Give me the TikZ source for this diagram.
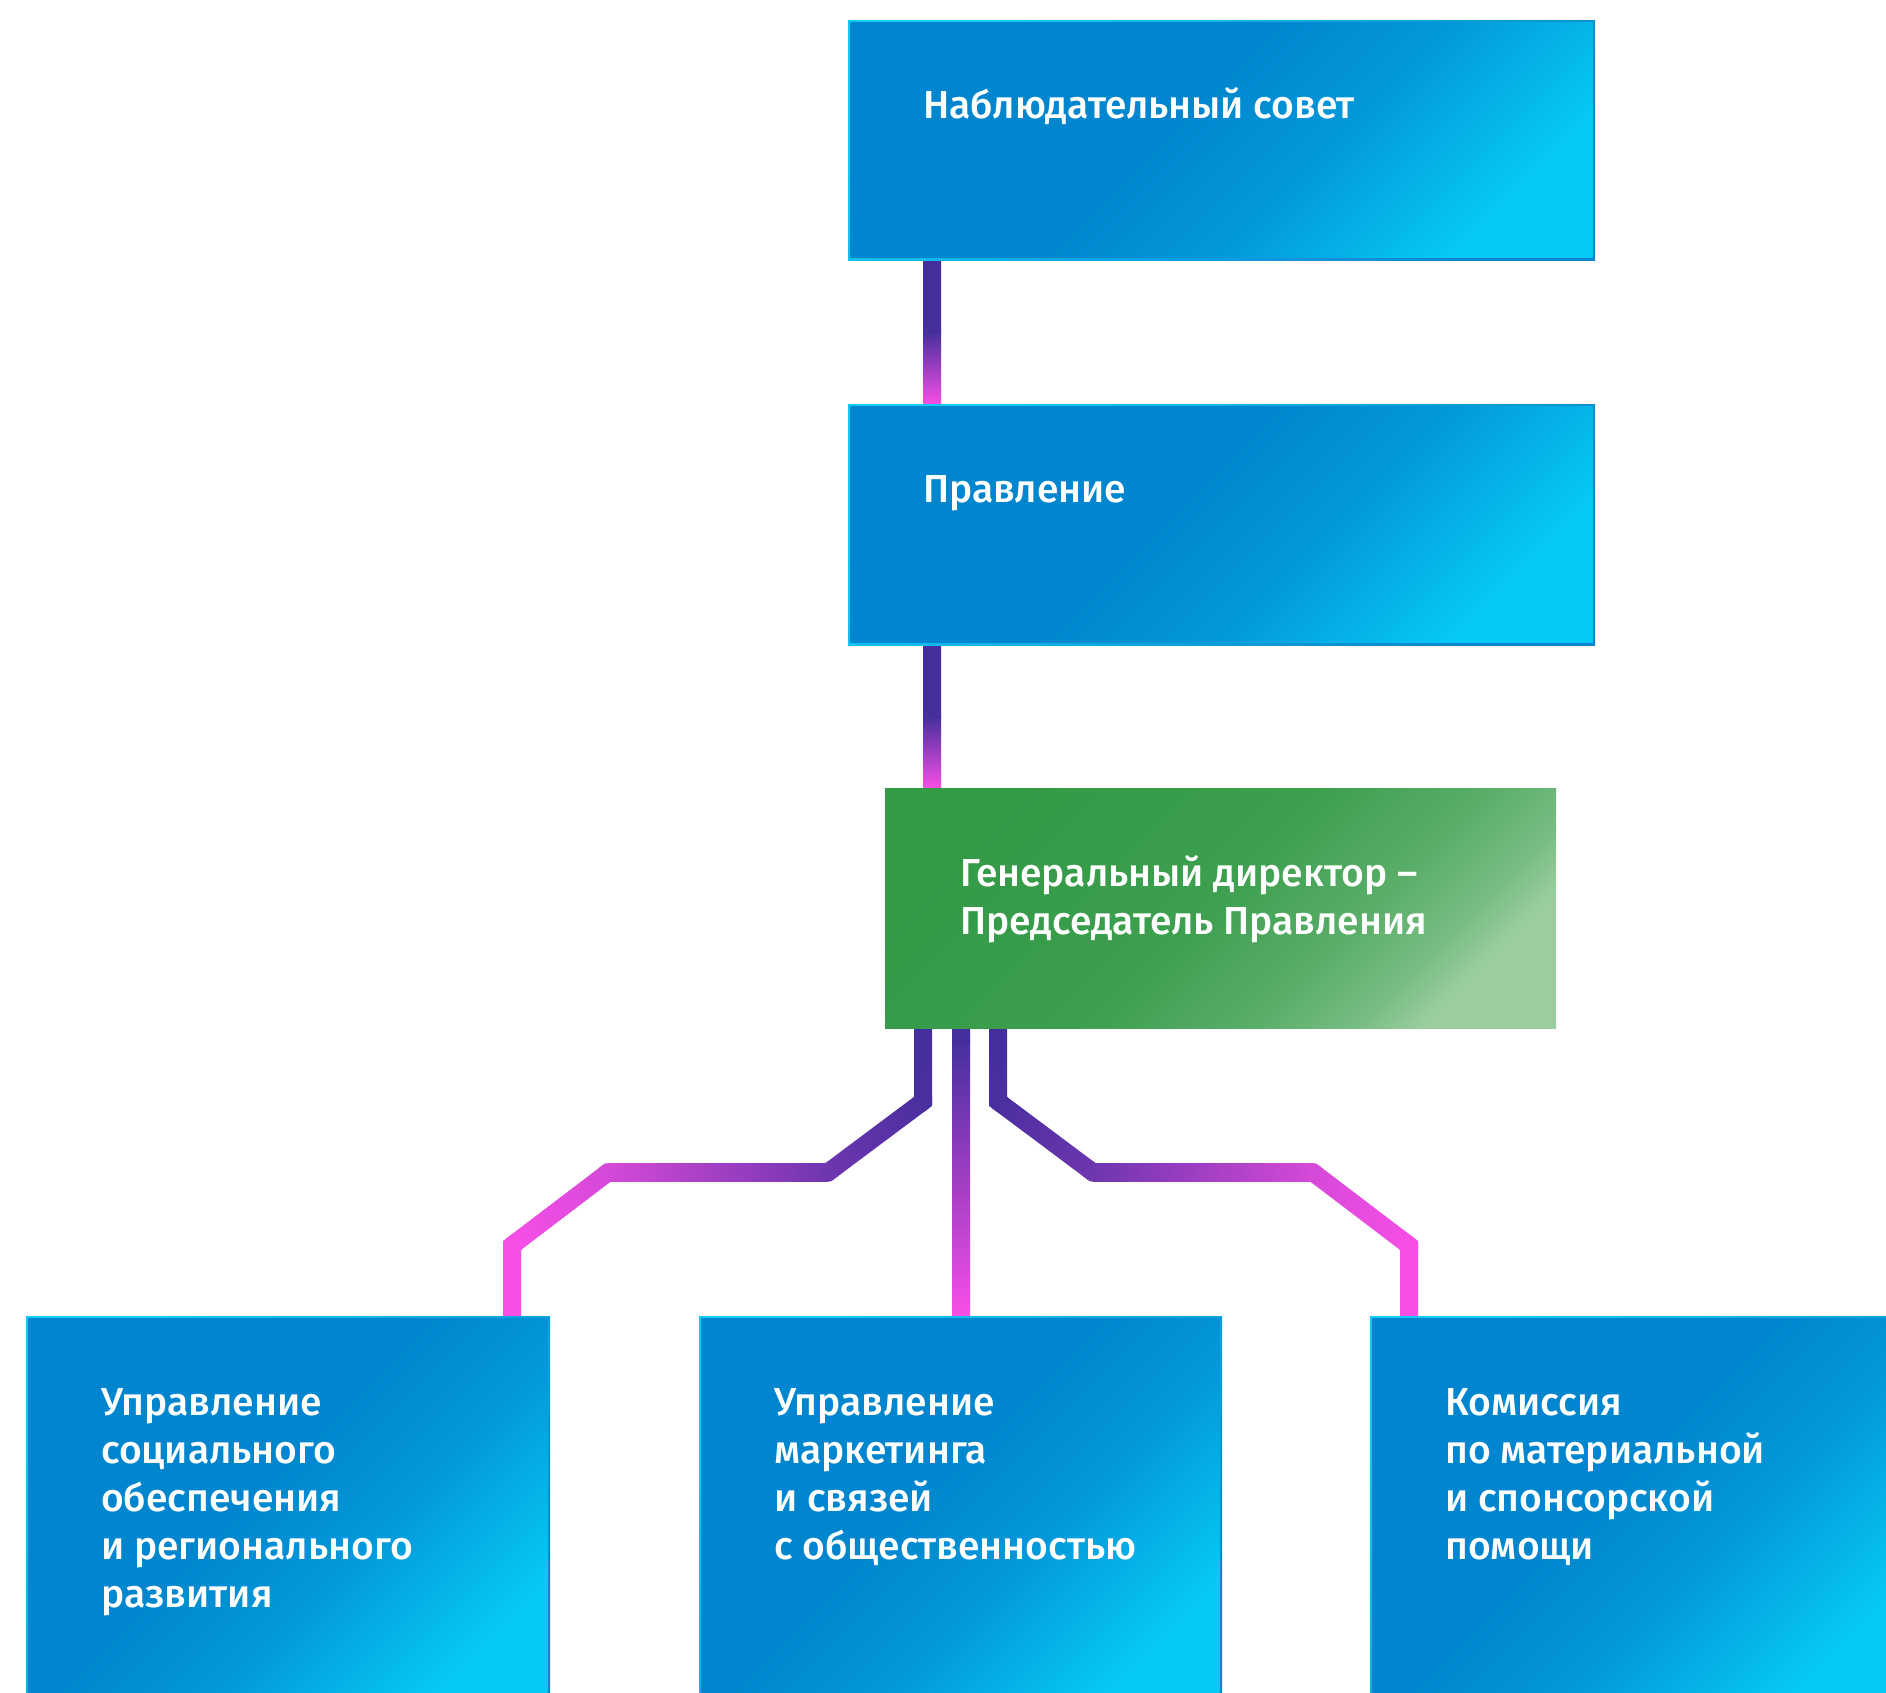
\documentclass[tikz,border=0pt]{standalone}
\usepackage{fontspec}
\newfontfamily\lblfont{Fira Sans Medium}
\usetikzlibrary{calc,backgrounds}
\definecolor{cpur}{HTML}{452E9E}
\definecolor{cpink}{HTML}{F74FE6}
\colorlet{cP1}{cpink!3!cpur}
\colorlet{cP2}{cpink!23!cpur}
\colorlet{cP3}{cpink!81!cpur}
\definecolor{bA}{HTML}{0086CE}
\definecolor{bM}{HTML}{0398D9}
\definecolor{bB}{HTML}{06C9F6}
\definecolor{rA}{HTML}{14C9F5}
\definecolor{rB}{HTML}{0A86CF}
\definecolor{gA}{HTML}{339A46}
\definecolor{gA2}{HTML}{3C9F4E}
\definecolor{gM}{HTML}{5AAE69}
\definecolor{gM2}{HTML}{79BD84}
\definecolor{gB}{HTML}{9ACEA0}
\pgfdeclarehorizontalshading{bmain}{100bp}{color(0bp)=(bA); color(25bp)=(bA); color(45bp)=(bA); color(58bp)=(bM); color(75bp)=(bB); color(100bp)=(bB)}
\pgfdeclarehorizontalshading{brev}{100bp}{color(0bp)=(rA); color(25bp)=(rA); color(75bp)=(rB); color(100bp)=(rB)}
\pgfdeclarehorizontalshading{gmain}{100bp}{color(0bp)=(gA); color(25bp)=(gA); color(48bp)=(gA2); color(62bp)=(gM); color(70bp)=(gM2); color(75bp)=(gB); color(100bp)=(gB)}
\renewcommand{\arraystretch}{1}
\newcommand\tlines[1]{\begin{tabular}[t]{@{}l@{}}#1\end{tabular}}
% gradient segment from coordinate #1 to #2, colours #3 -> #4
\newcommand\gseg[4]{%
  \pgfpointdiff{\pgfpointanchor{#1}{center}}{\pgfpointanchor{#2}{center}}%
  \pgfgetlastxy\gdx\gdy
  \pgfmathsetmacro\gAng{atan2(\gdy,\gdx)}%
  \pgfmathsetmacro\gLen{veclen(\gdx,\gdy)+0.6}%
  \shade[transform canvas={shift={(#1)},rotate=\gAng},left color=#3,right color=#4]
    (-0.6pt,-9pt) rectangle (\gLen pt,9pt);}
\newcommand\gcorner[4]{%
  \draw[conn,draw=#4,line join=miter] ($(#2)!6pt!(#1)$) -- (#2) -- ($(#2)!6pt!(#3)$);}
\begin{document}
\begin{tikzpicture}[x=1pt,y=-1pt,
  conn/.style={line width=18pt,line cap=butt},
  box/.style={rectangle,inner sep=0pt,anchor=north west,draw=none},
  bluebox/.style={box,shading=brev,shading angle=-45,
    path picture={\shade[shading=bmain,shading angle=-45]
      ([xshift=2.5pt,yshift=2.5pt]path picture bounding box.south west) rectangle
      ([xshift=-2.5pt,yshift=-2.5pt]path picture bounding box.north east);}},
  greenbox/.style={box,shading=gmain,shading angle=-45},
  lbl/.style={text=white,inner sep=0pt,anchor=base west,font=\lblfont\fontsize{39}{48}\selectfont}]
\useasboundingbox (0,0) rectangle (1886,1692);
% boxes
\node[bluebox,minimum width=747pt,minimum height=240pt] (b1) at (848,20) {};
\node[bluebox,minimum width=747pt,minimum height=241pt] (b2) at (848,404) {};
\node[greenbox,minimum width=671pt,minimum height=240pt] (g) at (885,788) {};
\node[bluebox,minimum width=524pt,minimum height=400pt] (bl) at (26,1316) {};
\node[bluebox,minimum width=523pt,minimum height=400pt] (bm) at (699,1316) {};
\node[bluebox,minimum width=540pt,minimum height=400pt] (br) at (1370,1316) {};
% texts
\node[lbl] (t1) at ($(b1.north west)+(75,98.5)$) {\tlines{Наблюдательный совет}};
\node[lbl] (t2) at ($(b2.north west)+(75,98.5)$) {\tlines{Правление}};
\node[lbl] (t3) at ($(g.north west)+(75,98.5)$) {\tlines{Генеральный директор –\\Председатель Правления}};
\node[lbl] (t4) at ($(bl.north west)+(75,99.5)$) {\tlines{Управление\\социального\\обеспечения\\и регионального\\развития}};
\node[lbl] (t5) at ($(bm.north west)+(75,99.5)$) {\tlines{Управление\\маркетинга\\и связей\\с общественностью}};
\node[lbl] (t6) at ($(br.north west)+(75,99.5)$) {\tlines{Комиссия\\по материальной\\и спонсорской\\помощи}};
% connectors
\begin{scope}[on background layer]
\fill[white] (0,0) rectangle (1886,1692);
\coordinate (T0) at ($(b1.south west)+(84,0)$);
\coordinate (T1) at (T0 |- b2.north);
\coordinate (T0m) at ($(T0)!0.5!(T1)$);
\gseg{T0}{T0m}{cpur}{cpur}
\gseg{T0m}{T1}{cpur}{cpink}
\coordinate (T2) at ($(b2.south west)+(84,0)$);
\coordinate (T3) at (T2 |- g.north);
\coordinate (T2m) at ($(T2)!0.5!(T3)$);
\gseg{T2}{T2m}{cpur}{cpur}
\gseg{T2m}{T3}{cpur}{cpink}
% middle
\coordinate (M0) at ($(g.south west)+(76,0)$);
\coordinate (M1) at (M0 |- bm.north);
\coordinate (M0m) at ($(M0)+(0,12)$);
\gseg{M0}{M0m}{cpur}{cpur}
\gseg{M0m}{M1}{cpur}{cpink}
% left
\coordinate (L0) at ($(g.south west)+(38,0)$);
\coordinate (L1) at ($(L0)+(0,73)$);
\coordinate (L2) at ($(L1)+(-95,71)$);
\coordinate (L3) at ($(L2)+(-220,0)$);
\coordinate (L4) at ($(L3)+(-96,73)$);
\coordinate (L5) at (L4 |- bl.north);
\gseg{L0}{L1}{cpur}{cP1}
\gseg{L1}{L2}{cP1}{cP2}
\gseg{L2}{L3}{cP2}{cP3}
\gseg{L3}{L4}{cP3}{cpink}
\gseg{L4}{L5}{cpink}{cpink}
\gcorner{L0}{L1}{L2}{cP1}
\gcorner{L1}{L2}{L3}{cP2}
\gcorner{L2}{L3}{L4}{cP3}
\gcorner{L3}{L4}{L5}{cpink}
% right
\coordinate (R0) at ($(g.south west)+(113,0)$);
\coordinate (R1) at ($(R0)+(0,73)$);
\coordinate (R2) at ($(R1)+(95,71)$);
\coordinate (R3) at ($(R2)+(220,0)$);
\coordinate (R4) at ($(R3)+(96,73)$);
\coordinate (R5) at (R4 |- br.north);
\gseg{R0}{R1}{cpur}{cP1}
\gseg{R1}{R2}{cP1}{cP2}
\gseg{R2}{R3}{cP2}{cP3}
\gseg{R3}{R4}{cP3}{cpink}
\gseg{R4}{R5}{cpink}{cpink}
\gcorner{R0}{R1}{R2}{cP1}
\gcorner{R1}{R2}{R3}{cP2}
\gcorner{R2}{R3}{R4}{cP3}
\gcorner{R3}{R4}{R5}{cpink}
\end{scope}
\end{tikzpicture}
\end{document}
